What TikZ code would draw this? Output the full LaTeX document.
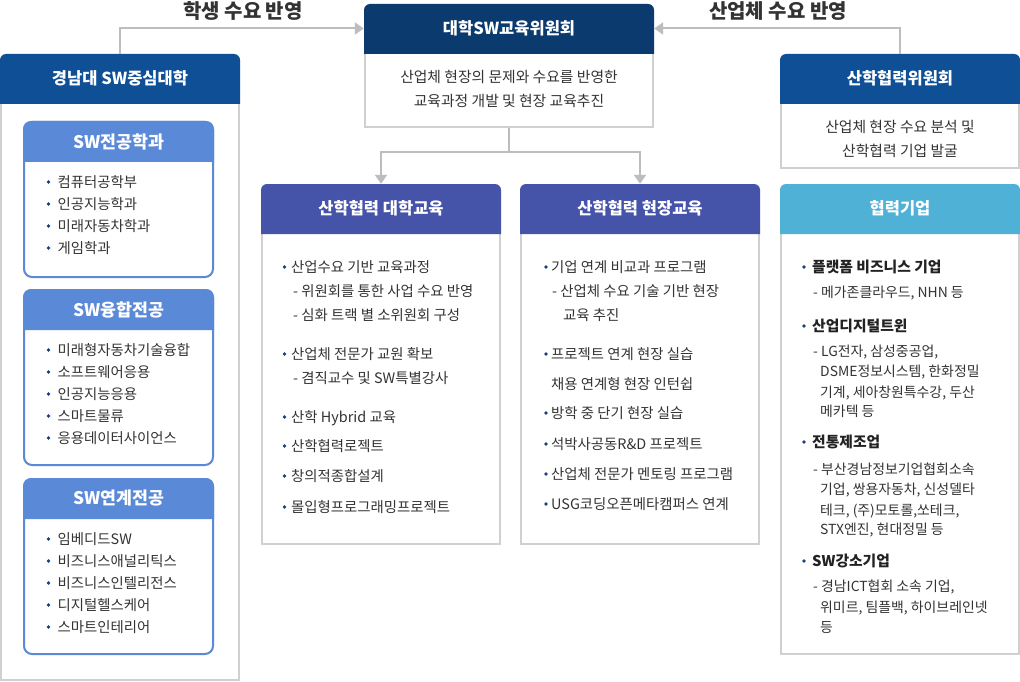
\documentclass[tikz,border=0pt]{standalone}
\usepackage{fontspec}
\setmainfont{Noto Sans CJK KR}
\usetikzlibrary{arrows.meta}
\definecolor{hdrA}{HTML}{0E4F96}
\definecolor{hdrC}{HTML}{0B3A6F}
\definecolor{hdrM}{HTML}{4553A9}
\definecolor{hdrP}{HTML}{4EB1D5}
\definecolor{innc}{HTML}{5A8AD7}
\definecolor{borderc}{HTML}{D0D0D0}
\definecolor{connc}{HTML}{BDBDBD}
\definecolor{txtc}{HTML}{333333}
\definecolor{btxtc}{HTML}{222222}
\definecolor{bulc}{HTML}{1E3F7F}
\definecolor{ttlc}{HTML}{333333}
\newcommand{\hdrF}{\fontsize{16.5}{19}\selectfont\bfseries}
\newcommand{\innF}{\fontsize{17.3}{20}\selectfont\bfseries}
\newcommand{\bodyF}{\fontsize{14.4}{17}\selectfont}
\newcommand{\cmtF}{\fontsize{14.8}{17}\selectfont}
\newcommand{\subF}{\fontsize{13.9}{17}\selectfont}
\newcommand{\bbF}{\fontsize{14.8}{17}\selectfont\bfseries}
\newcommand{\ttlF}{\fontsize{20}{23}\selectfont\bfseries}
\newcounter{itm}
% outer box: name, x1, x2, ytop, yhdr, ybottom, colour, title
\newcommand{\outerbox}[8]{%
  \draw[boxline] ({#2+1},{#5}) rectangle ({#3-1},{#6-1});
  \fill[#7] ({#2},{#5+1}) [rounded corners=6pt] -- ({#2},{#4}) -- ({#3},{#4}) [sharp corners] -- ({#3},{#5+1}) -- cycle;
  \node[hdrtext, minimum width={(#3-#2)*1pt}, minimum height={(#5-#4)*1pt}] (#1) at ({(#2+#3)/2},{(#4+#5)/2}) {#8};
  \coordinate (#1b) at ({(#2+#3)/2},{#6});
}
% inner box: name, x1, x2, ytop, yhdr, ybottom, title
\newcommand{\innerbox}[7]{%
  \draw[draw=innc, line width=2pt, fill=white, rounded corners=8pt] ({#2+1},{#4+1}) rectangle ({#3-1},{#6-1});
  \fill[innc] ({#2},{#5}) [rounded corners=8pt] -- ({#2},{#4}) -- ({#3},{#4}) [sharp corners] -- ({#3},{#5}) -- cycle;
  \node[hdrtext, font=\innF, minimum width={(#3-#2)*1pt}, minimum height={(#5-#4)*1pt}] (#1) at ({(#2+#3)/2},{(#4+#5)/2}) {#7};
}
% bullet item: [style]{bullet x}{text x}{y}{text}
\newcommand{\bl}[5][txt]{%
  \stepcounter{itm}%
  \fill[bulc] ({#2},{#4-1}) circle (1.9pt);
  \node[#1] (it\theitm) at ({#3},{#4}) {#5};
}
% plain line: [style]{x}{y}{text}
\newcommand{\pl}[4][txt]{%
  \stepcounter{itm}%
  \node[#1] (it\theitm) at ({#2},{#3}) {#4};
}
\begin{document}
\begin{tikzpicture}[x=1pt,y=-1pt,
  conn/.style={draw=connc, line width=2pt, -{Triangle[width=12pt,length=9pt]}},
  plainconn/.style={draw=connc, line width=2pt},
  boxline/.style={draw=borderc, line width=2pt, fill=white},
  hdrtext/.style={text=white, font=\hdrF, inner sep=0pt},
  txt/.style={anchor=west, inner sep=0pt, text=txtc, font=\bodyF, text height=11pt, text depth=2pt},
  stxt/.style={txt, font=\subF},
  btxt/.style={txt, text=btxtc, font=\bbF},
  ctxt/.style={inner sep=0pt, text=txtc, font=\cmtF, text height=11pt, text depth=2pt},
  ttl/.style={inner sep=0pt, text=ttlc, font=\ttlF},
]
\fill[white] (0,0) rectangle (1020,682);
\useasboundingbox (0,0) rectangle (1020,682);

% titles
\node[ttl] (ttlL) at (243,11) {학생 수요 반영};
\node[ttl] (ttlR) at (778,11) {산업체 수요 반영};

% outer boxes
\outerbox{lh}{0}{240}{54}{103}{681}{hdrA}{경남대 SW중심대학}
\outerbox{cmt}{364}{654}{4}{53}{128}{hdrC}{대학SW교육위원회}
\outerbox{rc}{780}{1020}{54}{103}{169}{hdrA}{산학협력위원회}
\outerbox{m1}{261}{501}{184}{233}{545}{hdrM}{산학협력 대학교육}
\outerbox{m2}{520}{760}{184}{233}{545}{hdrM}{산학협력 현장교육}
\outerbox{pt}{780}{1020}{184}{233}{655}{hdrP}{협력기업}

% inner boxes
\innerbox{i1}{23}{214}{121}{162}{278}{SW전공학과}
\innerbox{i2}{23}{214}{289}{330}{466}{SW융합전공}
\innerbox{i3}{23}{214}{478}{519}{655}{SW연계전공}

% connectors
\draw[conn] (lh.north) |- (cmt.west);
\draw[conn] (rc.north) |- (cmt.east);
\coordinate (split) at (509,152);
\draw[plainconn] (cmtb) -- (split);
\draw[conn] (split) -| (m1.north);
\draw[conn] (split) -| (m2.north);

% committee body
\node[ctxt] (c1) at (509,78) {산업체 현장의 문제와 수요를 반영한};
\node[ctxt] (c2) at (509,102) {교육과정 개발 및 현장 교육추진};
\node[ctxt] (r1) at (900,128) {산업체 현장 수요 분석 및};
\node[ctxt] (r2) at (900,152) {산학협력 기업 발굴};

% left inner items
\bl{48.5}{57.5}{183}{컴퓨터공학부}
\bl{48.5}{57.5}{205}{인공지능학과}
\bl{48.5}{57.5}{227}{미래자동차학과}
\bl{48.5}{57.5}{249}{게임학과}

\bl{48.5}{57.5}{351}{미래형자동차기술융합}
\bl{48.5}{57.5}{373}{소프트웨어응용}
\bl{48.5}{57.5}{395}{인공지능응용}
\bl{48.5}{57.5}{417}{스마트물류}
\bl{48.5}{57.5}{439}{응용데이터사이언스}

\bl{48.5}{57.5}{540}{임베디드SW}
\bl{48.5}{57.5}{562}{비즈니스애널리틱스}
\bl{48.5}{57.5}{584}{비즈니스인텔리전스}
\bl{48.5}{57.5}{606}{디지털헬스케어}
\bl{48.5}{57.5}{628}{스마트인테리어}

% middle left
\bl{284.5}{291}{268}{산업수요 기반 교육과정}
\pl{293}{292}{- 위원회를 통한 사업 수요 반영}
\pl{293}{316}{- 심화 트랙 별 소위원회 구성}
\bl{284.5}{291}{355}{산업체 전문가 교원 확보}
\pl{293}{379}{- 겸직교수 및 SW특별강사}
\bl{284.5}{291}{418}{산학 Hybrid 교육}
\bl{284.5}{291}{447}{산학협력로젝트}
\bl{284.5}{291}{477}{창의적종합설계}
\bl{284.5}{291}{508}{몰입형프로그래밍프로젝트}

% middle right
\bl{546}{551}{268}{기업 연계 비교과 프로그램}
\pl{552}{292}{- 산업체 수요 기술 기반 현장}
\pl{563}{316}{교육 추진}
\bl{546}{551}{355}{프로젝트 연계 현장 실습}
\pl{551}{385}{채용 연계형 현장 인턴쉽}
\bl{546}{551}{414}{방학 중 단기 현장 실습}
\bl{546}{551}{445}{석박사공동R\&D 프로젝트}
\bl{546}{551}{475}{산업체 전문가 멘토링 프로그램}
\bl{546}{551}{505}{USG코딩오픈메타캠퍼스 연계}

% partners
\bl[btxt]{804}{812}{268}{플랫폼 비즈니스 기업}
\pl[stxt]{813}{293}{- 메가존클라우드, NHN 등}
\bl[btxt]{804}{812}{327}{산업디지털트윈}
\pl[stxt]{813}{352}{- LG전자, 삼성중공업,}
\pl[stxt]{820}{372}{DSME정보시스템, 한화정밀}
\pl[stxt]{820}{393}{기계, 세아창원특수강, 두산}
\pl[stxt]{820}{412}{메카텍 등}
\bl[btxt]{804}{812}{443}{전통제조업}
\pl[stxt]{813}{470}{- 부산경남정보기업협회소속}
\pl[stxt]{820}{490}{기업, 쌍용자동차, 신성델타}
\pl[stxt]{820}{511}{테크, (주)모토롤,쏘테크,}
\pl[stxt]{820}{530}{STX엔진, 현대정밀 등}
\bl[btxt]{804}{812}{562}{SW강소기업}
\pl[stxt]{813}{587}{- 경남ICT협회 소속 기업,}
\pl[stxt]{820}{608}{위미르, 팀플백, 하이브레인넷}
\pl[stxt]{820}{628}{등}
\end{tikzpicture}
\end{document}
